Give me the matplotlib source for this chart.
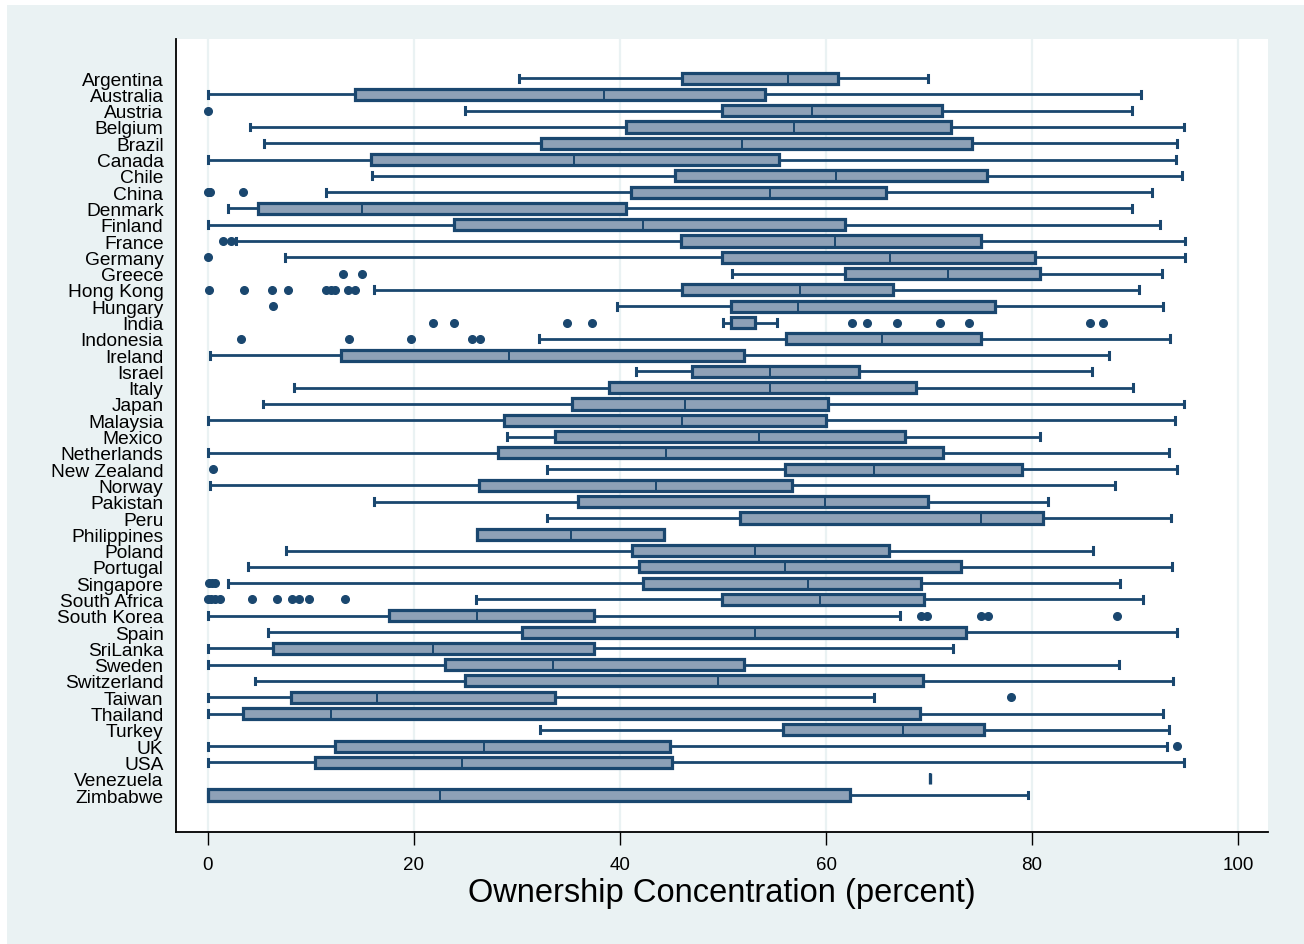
import matplotlib
matplotlib.use("Agg")
import matplotlib.pyplot as plt
from matplotlib.patches import Rectangle

# Box plot statistics (percent)
countries = ["Argentina", "Australia", "Austria", "Belgium", "Brazil", "Canada", "Chile",
             "China", "Denmark", "Finland", "France", "Germany", "Greece", "Hong Kong",
             "Hungary", "India", "Indonesia", "Ireland", "Israel", "Italy", "Japan",
             "Malaysia", "Mexico", "Netherlands", "New Zealand", "Norway", "Pakistan",
             "Peru", "Philippines", "Poland", "Portugal", "Singapore", "South Africa",
             "South Korea", "Spain", "SriLanka", "Sweden", "Switzerland", "Taiwan",
             "Thailand", "Turkey", "UK", "USA", "Venezuela", "Zimbabwe"]

whis_lo = [30.2, 0.0, 25.0, 4.1, 5.4, 0.0, 15.9, 11.5, 1.9, 0.0, 2.7, 7.5, 50.9, 16.1,
           39.7, 50.0, 32.1, 0.2, 41.6, 8.4, 5.3, 0.0, 29.0, 0.0, 32.9, 0.2, 16.1,
           32.9, 26.1, 7.6, 3.9, 1.9, 26.0, 0.0, 5.8, 0.0, 0.0, 4.6, 0.0,
           0.0, 32.2, 0.0, 0.0, 70.1, 0.0]
q1 = [46.0, 14.3, 49.9, 40.6, 32.3, 15.8, 45.3, 41.1, 4.9, 23.9, 45.9, 49.9, 61.8, 46.0,
      50.8, 50.8, 56.1, 12.9, 47.0, 38.9, 35.3, 28.7, 33.7, 28.2, 56.0, 26.3, 35.9,
      51.6, 26.1, 41.2, 41.8, 42.2, 49.9, 17.6, 30.5, 6.3, 23.0, 25.0, 8.1,
      3.4, 55.8, 12.3, 10.4, 70.1, 0.0]
median = [56.3, 38.4, 58.6, 56.9, 51.8, 35.5, 61.0, 54.6, 15.0, 42.2, 60.9, 66.2, 71.8, 57.5,
          57.3, 50.9, 65.4, 29.2, 54.6, 54.6, 46.3, 46.0, 53.5, 44.5, 64.7, 43.5, 59.9,
          75.0, 35.2, 53.1, 56.0, 58.2, 59.4, 26.1, 53.1, 21.8, 33.5, 49.5, 16.4,
          11.9, 67.5, 26.8, 24.7, 70.1, 22.5]
q3 = [61.2, 54.1, 71.3, 72.1, 74.2, 55.4, 75.6, 65.8, 40.6, 61.8, 75.0, 80.3, 80.8, 66.5,
      76.4, 53.1, 75.0, 52.0, 63.2, 68.7, 60.2, 60.0, 67.7, 71.4, 79.0, 56.7, 69.9,
      81.1, 44.3, 66.1, 73.1, 69.2, 69.5, 37.5, 73.6, 37.5, 52.0, 69.4, 33.7,
      69.1, 75.3, 44.9, 45.0, 70.1, 62.3]
whis_hi = [69.9, 90.6, 89.7, 94.7, 94.1, 94.0, 94.6, 91.6, 89.7, 92.4, 94.8, 94.8, 92.6, 90.4,
           92.7, 55.2, 93.4, 87.5, 85.8, 89.8, 94.7, 93.9, 80.8, 93.3, 94.1, 88.0, 81.5,
           93.5, 44.3, 85.9, 93.6, 88.5, 90.8, 67.2, 94.1, 72.3, 88.4, 93.7, 64.7,
           92.7, 93.3, 93.1, 94.7, 70.1, 79.6]
outliers = {
    "Austria": [0.0],
    "China": [0.0, 0.1, 0.2, 3.4],
    "France": [1.5, 2.2],
    "Germany": [0.0],
    "Greece": [13.1, 15.0],
    "Hong Kong": [0.1, 3.5, 6.2, 7.8, 11.5, 11.9, 12.3, 13.6, 14.3],
    "Hungary": [6.3],
    "India": [21.8, 23.9, 34.9, 37.3, 62.5, 64.0, 66.9, 71.1, 73.9, 85.6, 86.9],
    "Indonesia": [3.2, 13.7, 19.7, 25.6, 26.4],
    "New Zealand": [0.5],
    "Singapore": [0.1, 0.4, 0.7],
    "South Africa": [0.0, 0.3, 0.7, 1.2, 4.3, 6.7, 8.2, 8.8, 9.8, 13.3],
    "South Korea": [69.2, 69.8, 75.0, 75.7, 88.2],
    "Taiwan": [78.0],
    "UK": [94.1],
}
xticks = [0, 20, 40, 60, 80, 100]

navy = "#1a476f"
fill = "#8ea1b7"
bg = "#eaf2f3"

plt.rcParams["font.family"] = ["Liberation Sans", "DejaVu Sans"]

fig = plt.figure(figsize=(13.04, 9.45), dpi=100)
fig.patch.set_facecolor("white")
fig.patches.append(Rectangle((7 / 1304, 0), 1, 1 - 6 / 945, transform=fig.transFigure,
                             facecolor=bg, edgecolor="none", zorder=-10))

ax = fig.add_axes([176 / 1304, 112 / 945, 1092 / 1304, 793 / 945])
ax.set_facecolor("white")

stats = []
for i, c in enumerate(countries):
    stats.append({"label": c, "whislo": whis_lo[i], "q1": q1[i], "med": median[i],
                  "q3": q3[i], "whishi": whis_hi[i], "fliers": outliers.get(c, [])})

positions = list(range(len(countries)))
ax.bxp(stats, positions=positions, vert=False, widths=0.68, capwidths=0.42,
       patch_artist=True, showfliers=True,
       boxprops=dict(facecolor=fill, edgecolor=navy, linewidth=2.3),
       medianprops=dict(color=navy, linewidth=1.4),
       whiskerprops=dict(color=navy, linewidth=2.0),
       capprops=dict(color=navy, linewidth=2.2),
       flierprops=dict(marker="o", markerfacecolor=navy, markeredgecolor=navy,
                       markersize=5.5, linestyle="none"))

ax.set_ylim(len(countries) - 1 + 2.27, -2.4)
ax.set_xlim(-3.1, 102.9)
ax.set_yticks(positions)
ax.set_yticklabels(countries, fontsize=13.8)
ax.tick_params(axis="y", length=0, pad=9)
ax.set_xticks(xticks)
ax.set_xticklabels([str(t) for t in xticks], fontsize=13.5)
ax.tick_params(axis="x", length=9.5, width=1.0, color="black", pad=8)

for t in xticks:
    ax.axvline(t, color=bg, linewidth=1.6, zorder=0)

ax.spines["top"].set_visible(False)
ax.spines["right"].set_visible(False)
ax.spines["left"].set_linewidth(1.3)
ax.spines["bottom"].set_linewidth(1.3)

ax.set_xlabel("Ownership Concentration (percent)", fontsize=23.5, labelpad=3)

fig.savefig("out.png", dpi=100, facecolor=fig.get_facecolor())
